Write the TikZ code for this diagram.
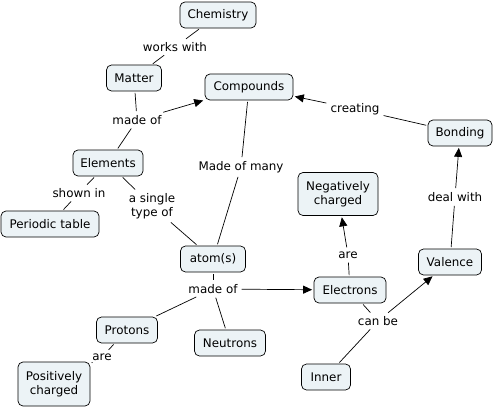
\documentclass[tikz,border=0pt]{standalone}
\usepackage{fontspec}
\setmainfont{DejaVu Sans}
\usetikzlibrary{arrows.meta}
\definecolor{boxfill}{RGB}{236,243,246}
\begin{document}
\begin{tikzpicture}[x=1pt,y=-1pt,
  concept/.style={draw=black, line width=0.7pt, rounded corners=5pt, fill=boxfill,
    font=\fontsize{11.9}{14}\selectfont, inner xsep=4pt, inner ysep=3pt, minimum height=26pt, align=center},
  lbl/.style={font=\fontsize{11.9}{14}\selectfont, inner sep=2.5pt, align=center},
  link/.style={line width=0.7pt, shorten <=1.5pt, shorten >=1.5pt},
  arr/.style={link, -{Triangle[length=9pt,width=8pt]}}]
\useasboundingbox (0,0) rectangle (495,407);

% concepts
\node[concept, minimum width=76pt] (chem) at (218,15) {Chemistry};
\node[concept, minimum width=55pt] (matter) at (134,78) {Matter};
\node[concept, minimum width=88pt] (comp) at (249,87) {Compounds};
\node[concept, minimum width=64pt] (bond) at (460,133) {Bonding};
\node[concept, minimum width=70pt] (elem) at (108,163) {Elements};
\node[concept, minimum width=98pt] (ptable) at (50,224) {Periodic table};
\node[concept, minimum width=80pt, minimum height=43pt] (neg) at (338,194) {Negatively\\charged};
\node[concept, minimum width=65pt] (atom) at (213,259) {atom(s)};
\node[concept, minimum width=63pt] (val) at (450,262) {Valence};
\node[concept, minimum width=72pt] (elec) at (350,290) {Electrons};
\node[concept, minimum width=61pt] (prot) at (127,330) {Protons};
\node[concept, minimum width=71pt] (neut) at (230,343) {Neutrons};
\node[concept, minimum width=72pt, minimum height=44pt] (pos) at (54,384) {Positively\\charged};
\node[concept, minimum width=49pt] (inner) at (326,377) {Inner};

% link labels
\node[lbl] (works) at (175,47) {works with};
\node[lbl] (madeof1) at (137,120) {made of};
\node[lbl] (shown) at (79,193) {shown in};
\node[lbl] (single) at (152,206) {a single\\type of};
\node[lbl] (many) at (241,167) {Made of many};
\node[lbl] (creating) at (355,109) {creating};
\node[lbl] (deal) at (455,197) {deal with};
\node[lbl] (are1) at (348,255) {are};
\node[lbl] (madeof2) at (213,289) {made of};
\node[lbl] (canbe) at (378,321) {can be};
\node[lbl] (are2) at (102,357) {are};

% connectors
\draw[link] (chem) -- (works);
\draw[link] (works) -- (matter);
\draw[link] (matter) -- (madeof1);
\draw[arr] (madeof1) -- (comp);
\draw[link] (madeof1) -- (elem);
\draw[link] (elem) -- (shown);
\draw[link] (shown) -- (ptable);
\draw[link] (elem) -- (single);
\draw[link] (single) -- (atom);
\draw[link] (comp) -- (many);
\draw[link] (many) -- (atom);
\draw[link] (bond) -- (creating);
\draw[arr] (creating) -- (comp);
\draw[link] (val) -- (deal);
\draw[arr] (deal) -- (bond);
\draw[link] (elec) -- (are1);
\draw[arr] (are1) -- (neg);
\draw[link] (atom) -- (madeof2);
\draw[arr] (madeof2) -- (elec);
\draw[link] (madeof2) -- (prot);
\draw[link] (madeof2) -- (neut);
\draw[link] (elec) -- (canbe);
\draw[link] (inner) -- (canbe);
\draw[arr] (canbe) -- (val);
\draw[link] (prot) -- (are2);
\draw[link] (are2) -- (pos);
\end{tikzpicture}
\end{document}
